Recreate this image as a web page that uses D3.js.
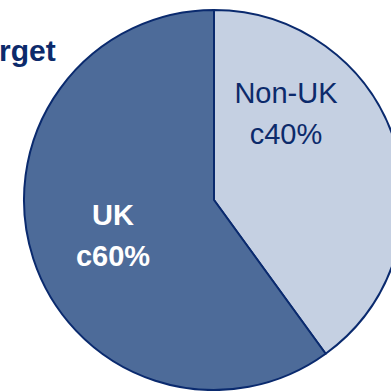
<!DOCTYPE html>
<html>
<head>
<meta charset="utf-8">
<script src="https://cdn.jsdelivr.net/npm/d3@7"></script>
<style>
  html, body { margin: 0; padding: 0; background: #fff; }
  svg { display: block; font-family: "Liberation Sans", Arial, sans-serif; }
</style>
</head>
<body>
<div id="chart"></div>
<script>
// data
const categories = ["Non-UK", "UK"];
const values = [40, 60];
const shareLabels = ["c40%", "c60%"];
const title = "Target";

const width = 391;
const height = 391;
const cx = 214, cy = 200, radius = 190;

const colors = d3.scaleOrdinal()
  .domain(categories)
  .range(["#c5d0e2", "#4d6b99"]);
const textColors = d3.scaleOrdinal()
  .domain(categories)
  .range(["#0c2a6b", "#ffffff"]);

const svg = d3.select("#chart")
  .append("svg")
  .attr("width", width)
  .attr("height", height);

// title, cut off at the left like the source slide ("rget" shows)
const titleText = svg.append("text")
  .attr("x", 0)
  .attr("y", 61)
  .attr("font-size", 30)
  .attr("font-weight", "bold")
  .attr("fill", "#0c2a6b")
  .text(title);
// put the "r" just at the left edge
const lead = titleText.node().getSubStringLength(0, 2);
titleText.attr("x", -1 - lead);

const pie = d3.pie().sort(null).value(d => d.value);
const arcs = pie(categories.map((c, i) => ({ cat: c, value: values[i], label: shareLabels[i] })));

const arc = d3.arc().innerRadius(0).outerRadius(radius);

const g = svg.append("g").attr("transform", `translate(${cx},${cy})`);

g.selectAll("path")
  .data(arcs)
  .enter()
  .append("path")
  .attr("d", arc)
  .attr("fill", d => colors(d.data.cat))
  .attr("stroke", "#0a2a6e")
  .attr("stroke-width", 2)
  .attr("stroke-linejoin", "round");

// label spots (offset from centre), the slide does not use centroids
const labelPos = {
  "Non-UK": { x: 72, y: -97, bold: false },
  "UK": { x: -101, y: 25, bold: true }
};

const labels = g.selectAll("text.lbl")
  .data(arcs)
  .enter()
  .append("text")
  .attr("class", "lbl")
  .attr("text-anchor", "middle")
  .attr("font-size", 29)
  .attr("font-weight", d => labelPos[d.data.cat].bold ? "bold" : "normal")
  .attr("fill", d => textColors(d.data.cat))
  .attr("transform", d => `translate(${labelPos[d.data.cat].x},${labelPos[d.data.cat].y})`);

labels.append("tspan").attr("x", 0).attr("y", 0).text(d => d.data.cat);
labels.append("tspan").attr("x", 0).attr("y", 41).text(d => d.data.label);
</script>
</body>
</html>
